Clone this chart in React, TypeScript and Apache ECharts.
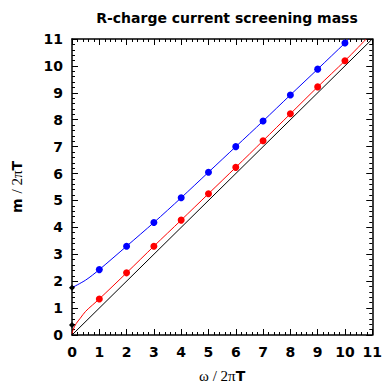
import React, { useEffect, useRef } from "react";
import * as echarts from "echarts";

const omegaPoints = [1, 2, 3, 4, 5, 6, 7, 8, 9, 10];
const bluePoints = [2.43, 3.3, 4.18, 5.1, 6.05, 7.0, 7.95, 8.92, 9.88, 10.85];
const redPoints = [1.34, 2.31, 3.3, 4.27, 5.25, 6.23, 7.22, 8.22, 9.22, 10.19];

const blueCurveX = [0, 0.5, 1, 2, 3, 4, 5, 6, 7, 8, 9, 10, 10.15];
const blueCurveY = [1.76, 2.04, 2.43, 3.3, 4.18, 5.1, 6.05, 7.0, 7.95, 8.92, 9.88, 10.85, 11];
const redCurveX = [0, 0.05, 0.15, 0.3, 0.5, 1, 2, 3, 4, 5, 6, 7, 8, 9, 10, 10.78];
const redCurveY = [0.05, 0.22, 0.42, 0.62, 0.88, 1.34, 2.31, 3.3, 4.27, 5.25, 6.23, 7.22, 8.22, 9.22, 10.19, 11];
const diagX = [0, 11];
const diagY = [0, 11];
const zeroModeX = [0, 0];
const zeroModeY = [0.37, 1.76];

const FONT = "'DejaVu Sans', Verdana, sans-serif";
const SERIF = "'Liberation Serif', 'Times New Roman', serif";

const zip = (xs: number[], ys: number[]) => xs.map((x, i) => [x, ys[i]]);

export default function App() {
  const ref = useRef<HTMLDivElement>(null);
  useEffect(() => {
    if (!ref.current) return;
    const chart = echarts.init(ref.current, null, { renderer: "svg" });
    const tickCommon = {
      axisLine: { show: true, onZero: false, lineStyle: { color: "#000", width: 1.5 } },
      axisTick: { show: true, inside: true, length: 6, lineStyle: { color: "#000", width: 1 } },
      minorTick: { show: true, splitNumber: 5, length: 3, lineStyle: { color: "#000", width: 1 } },
      splitLine: { show: false },
    };
    const axisBase = {
      type: "value",
      min: 0,
      max: 11,
      interval: 1,
    };
    chart.setOption({
      animation: false,
      title: {
        text: "R-charge current screening mass",
        left: 222,
        textAlign: "center",
        top: 6,
        textStyle: { fontFamily: FONT, fontWeight: "bold", fontSize: 14, color: "#000" },
      },
      grid: { left: 72, right: 12, top: 39, bottom: 48, containLabel: false },
      xAxis: [
        {
          ...axisBase,
          ...tickCommon,
          position: "bottom",
          axisLabel: { fontFamily: FONT, fontWeight: "bold", fontSize: 14, color: "#000", margin: 10 },
          name: "{s|ω / 2π}{b|T}",
          nameLocation: "middle",
          nameGap: 33,
          nameTextStyle: {
            rich: {
              s: { fontFamily: SERIF, fontSize: 15, color: "#000" },
              b: { fontFamily: FONT, fontSize: 14, fontWeight: "bold", color: "#000" },
            },
          },
        },
        {
          ...axisBase,
          ...tickCommon,
          position: "top",
          axisLabel: { show: false },
        },
      ],
      yAxis: [
        {
          ...axisBase,
          ...tickCommon,
          position: "left",
          axisLabel: { fontFamily: FONT, fontWeight: "bold", fontSize: 14, color: "#000", margin: 9 },
          name: "{b|m }{s|/ 2π}{b|T}",
          nameLocation: "middle",
          nameRotate: 90,
          nameGap: 48,
          nameTextStyle: {
            rich: {
              s: { fontFamily: SERIF, fontSize: 15, color: "#000" },
              b: { fontFamily: FONT, fontSize: 14, fontWeight: "bold", color: "#000" },
            },
          },
        },
        {
          ...axisBase,
          ...tickCommon,
          position: "right",
          axisLabel: { show: false },
        },
      ],
      series: [
        {
          type: "line",
          data: zip(diagX, diagY),
          showSymbol: false,
          lineStyle: { color: "#000", width: 1 },
          z: 2,
        },
        {
          type: "line",
          data: zip(redCurveX, redCurveY),
          smooth: 0.3,
          showSymbol: false,
          lineStyle: { color: "#ff0000", width: 1 },
          z: 3,
        },
        {
          type: "line",
          data: zip(blueCurveX, blueCurveY),
          smooth: 0.3,
          showSymbol: false,
          lineStyle: { color: "#0000ff", width: 1 },
          z: 3,
        },
        {
          type: "scatter",
          data: zip(omegaPoints, redPoints),
          symbol: "circle",
          symbolSize: 7,
          itemStyle: { color: "#ff0000", opacity: 1 },
          z: 4,
        },
        {
          type: "scatter",
          data: zip(omegaPoints, bluePoints),
          symbol: "circle",
          symbolSize: 7,
          itemStyle: { color: "#0000ff", opacity: 1 },
          z: 4,
        },
        {
          type: "scatter",
          data: zip(zeroModeX, zeroModeY),
          symbol: "diamond",
          symbolSize: 6,
          itemStyle: { color: "#000", opacity: 1 },
          z: 5,
        },
      ],
    });
    return () => chart.dispose();
  }, []);
  return <div ref={ref} style={{ width: 385, height: 388, position: "absolute", left: 0, top: 0 }} />;
}
